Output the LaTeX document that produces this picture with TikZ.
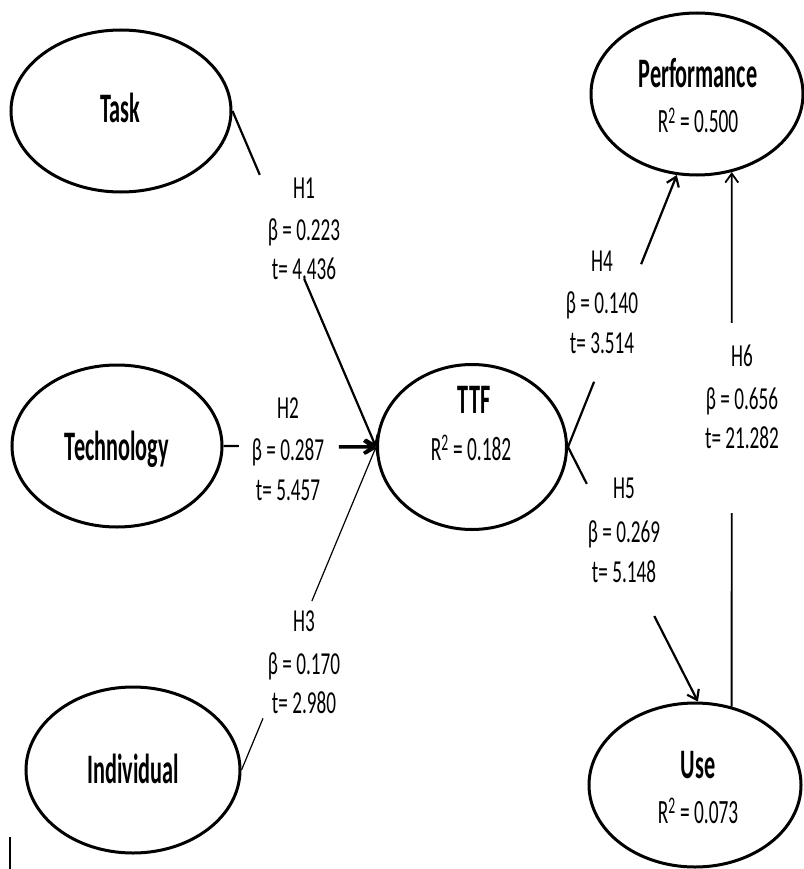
\documentclass[tikz,border=0pt]{standalone}
\usepackage{fontspec}
\setmainfont{Carlito}
\newfontfamily\bigf[FakeStretch=0.53]{Carlito}
\newfontfamily\midf[FakeStretch=0.57]{Carlito}
\newfontfamily\smf[FakeStretch=0.6]{Carlito}
\usetikzlibrary{arrows.meta,shapes.geometric,calc}
\begin{document}
\begin{tikzpicture}[x=1pt,y=-1pt,
  lat/.style={ellipse, draw, line width=3pt, inner sep=0pt},
  nm/.style={font=\bigf\bfseries\fontsize{42}{44}\selectfont, anchor=base, inner sep=0pt},
  rsq/.style={font=\midf\fontsize{34}{36}\selectfont, anchor=base, inner sep=0pt},
  hl/.style={font=\smf\fontsize{32}{34}\selectfont, anchor=base, inner sep=0pt},
  tip/.style={-{Straight Barb[length=9pt,width=13pt]}}]
\useasboundingbox (0,0) rectangle (803,869);
% latent variables
\node[lat, minimum width=220pt, minimum height=162pt] (task) at (121,111) {};
\node[lat, minimum width=210pt, minimum height=162pt] (tech) at (117,446) {};
\node[lat, minimum width=214pt, minimum height=166pt] (ind)  at (133,770) {};
\node[lat, minimum width=189pt, minimum height=165pt] (ttf)  at (472,447) {};
\node[lat, minimum width=212pt, minimum height=162pt] (perf) at (697,94) {};
\node[lat, minimum width=212pt, minimum height=164pt] (use)  at (695,785) {};
% names
\node[nm] (taskt) at (120,123) {Task};
\node[nm] (techt) at (117,460) {Technology};
\node[nm] (indt)  at (133,783) {Individual};
\node[nm] (ttft)  at (474,413) {TTF};
\node[rsq] (ttfr) at (471,460) {R\textsuperscript{2} = 0.182};
\node[nm] (perft) at (698,88) {Performance};
\node[rsq] (perfr) at (698,133) {R\textsuperscript{2} = 0.500};
\node[nm] (uset)  at (698,778) {Use};
\node[rsq] (user) at (698,823) {R\textsuperscript{2} = 0.073};
% hypothesis labels
\node[hl] (h1l1) at (304,198) {H1};
\node[hl] (h1l2) at (304,240) {β = 0.223};
\node[hl] (h1l3) at (304,279) {t= 4.436};
\node[hl] (h2l1) at (288,418) {H2};
\node[hl] (h2l2) at (288,460) {β = 0.287};
\node[hl] (h2l3) at (288,500) {t= 5.457};
\node[hl] (h3l1) at (304,631) {H3};
\node[hl] (h3l2) at (304,674) {β = 0.170};
\node[hl] (h3l3) at (304,713) {t= 2.980};
\node[hl] (h4l1) at (602,271) {H4};
\node[hl] (h4l2) at (602,313) {β = 0.140};
\node[hl] (h4l3) at (602,353) {t= 3.514};
\node[hl] (h5l1) at (624,498) {H5};
\node[hl] (h5l2) at (624,542) {β = 0.269};
\node[hl] (h5l3) at (624,582) {t= 5.148};
\node[hl] (h6l1) at (742,366) {H6};
\node[hl] (h6l2) at (742,409) {β = 0.656};
\node[hl] (h6l3) at (742,448) {t= 21.282};
% gap coordinates
\coordinate (h1a) at ($(task.east)!0.19!(ttf.west)$);
\coordinate (h1b) at ($(task.east)!0.50!(ttf.west)$);
\coordinate (h2a) at ($(tech.east)!0.10!(ttf.west)$);
\coordinate (h2b) at ($(tech.east)!0.756!(ttf.west)$);
\coordinate (h3a) at ($(ind.east)!0.16!(ttf.west)$);
\coordinate (h3b) at ($(ind.east)!0.523!(ttf.west)$);
\coordinate (h4a) at ($(ttf.east)!0.24!(perf.-104.8)$);
\coordinate (h4b) at ($(ttf.east)!0.672!(perf.-104.8)$);
\coordinate (h5a) at ($(ttf.east)!0.145!(use.88)$);
\coordinate (h5b) at ($(ttf.east)!0.664!(use.88)$);
\coordinate (h6a) at ($(use.65.7)!0.362!(perf.-66.8)$);
\coordinate (h6b) at ($(use.65.7)!0.718!(perf.-66.8)$);
% connectors
\draw[line width=2.2pt] (task.east) -- (h1a);
\draw[line width=2.2pt, tip] (h1b) -- (ttf.west);
\draw[line width=2.2pt] (tech.east) -- (h2a);
\draw[line width=3.5pt, tip] (h2b) -- (ttf.west);
\draw[line width=1.2pt] (ind.east) -- (h3a);
\draw[line width=1.2pt, tip] (h3b) -- (ttf.west);
\draw[line width=2.2pt] (ttf.east) -- (h4a);
\draw[line width=2.2pt, tip] (h4b) -- (perf.-104.8);
\draw[line width=2.2pt] (ttf.east) -- (h5a);
\draw[line width=2.2pt, tip] (h5b) -- (use.88);
\draw[line width=1.8pt] (use.65.7) -- (h6a);
\draw[line width=1.8pt, tip] (h6b) -- (perf.-66.8);
% stray mark
\draw[line width=2pt] (10,837) -- (10,869);
\end{tikzpicture}
\end{document}
